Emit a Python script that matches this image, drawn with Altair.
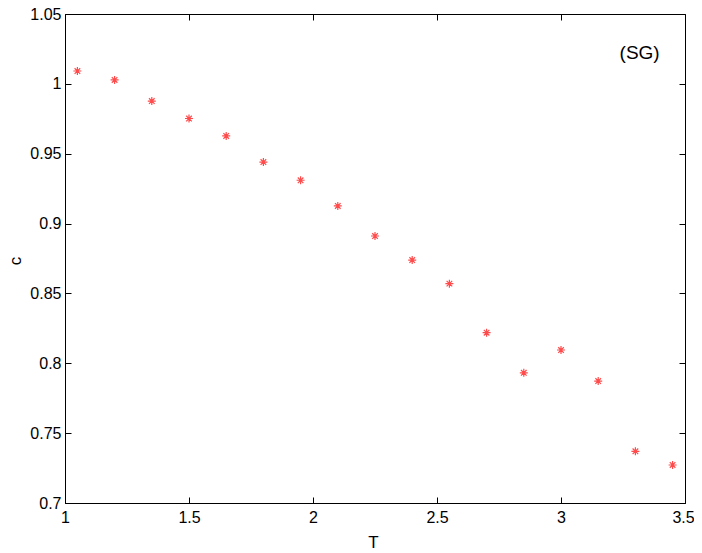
import altair as alt
import pandas as pd

T_vals = [1.05, 1.2, 1.35, 1.5, 1.65, 1.8, 1.95, 2.1, 2.25, 2.4, 2.55, 2.7, 2.85, 3.0, 3.15, 3.3, 3.45]
c_vals = [1.0092, 1.0028, 0.9877, 0.9752, 0.9627, 0.9440, 0.9310, 0.9126, 0.8911, 0.8739,
          0.8570, 0.8219, 0.7932, 0.8095, 0.7873, 0.7370, 0.7272]

x_ticks = [1, 1.5, 2, 2.5, 3, 3.5]
y_ticks = [0.7, 0.75, 0.8, 0.85, 0.9, 0.95, 1, 1.05]

note_x = [3.317]
note_y = [1.0221]
note_text = ["(SG)"]

df = pd.DataFrame({"T": T_vals, "c": c_vals})
note_df = pd.DataFrame({"T": note_x, "c": note_y, "txt": note_text})

W, H = 620, 489
FONT = "Liberation Sans"

xs = alt.Scale(domain=[1, 3.5], nice=False, zero=False)
ys = alt.Scale(domain=[0.7, 1.05], nice=False, zero=False)

ASTER = "M-1,0H1M0,-1V1M-0.7,-0.7L0.7,0.7M-0.7,0.7L0.7,-0.7"

common_lab = dict(labelFont=FONT, labelFontSize=16, labelColor="black",
                  titleFont=FONT, titleFontSize=17, titleFontWeight="normal", titleColor="black",
                  grid=False, labelFlush=False, labelOverlap=False)

points = alt.Chart(df).mark_point(shape=ASTER, size=64, color="red", strokeWidth=1.2, filled=False).encode(
    x=alt.X("T:Q", scale=xs, axis=alt.Axis(orient="bottom", values=x_ticks, format="~g", ticks=False,
                                           domainColor="black", labelPadding=6, title="T",
                                           labelOffset={"condition": {"test": "datum.value >= 3.5", "value": -2},
                                                        "value": 0},
                                           titleX=W / 2 - 2, titleY=39, titleBaseline="middle",
                                           **common_lab)),
    y=alt.Y("c:Q", scale=ys, axis=alt.Axis(orient="left", values=y_ticks, format="~g", ticks=False,
                                           domainColor="black", labelPadding=4, title="c",
                                           titleX=-50, titleY=H / 2 + 2, titleAngle=-90,
                                           titleBaseline="middle", **common_lab)),
)

tick_style = dict(labels=False, domain=False, ticks=True, tickSize=6, tickColor="black",
                  tickWidth=1, grid=False, title=None)

ghost1 = alt.Chart(df).mark_point(opacity=0).encode(
    x=alt.X("T:Q", scale=xs, axis=alt.Axis(orient="top", offset=-H, values=x_ticks, **tick_style)),
    y=alt.Y("c:Q", scale=ys, axis=alt.Axis(orient="right", offset=-W, values=y_ticks, **tick_style)),
)

ghost2 = alt.Chart(df).mark_point(opacity=0).encode(
    x=alt.X("T:Q", scale=xs, axis=alt.Axis(orient="bottom", offset=-H, values=x_ticks, **tick_style)),
    y=alt.Y("c:Q", scale=ys, axis=alt.Axis(orient="left", offset=-W, values=y_ticks, **tick_style)),
)

note = alt.Chart(note_df).mark_text(font=FONT, fontSize=19, color="black", align="center",
                                    baseline="middle").encode(
    x=alt.X("T:Q", scale=xs, axis=None),
    y=alt.Y("c:Q", scale=ys, axis=None),
    text="txt:N",
)

chart = alt.layer(points, ghost1, ghost2, note).resolve_axis(
    x="independent", y="independent"
).properties(
    width=W, height=H,
    autosize=alt.AutoSizeParams(type="none"),
    padding={"left": 57, "top": 6, "right": 9, "bottom": 50},
    background="white",
).configure_view(stroke="black", strokeWidth=1)

chart.save("out.html", embed_options={"renderer": "svg", "actions": False})
